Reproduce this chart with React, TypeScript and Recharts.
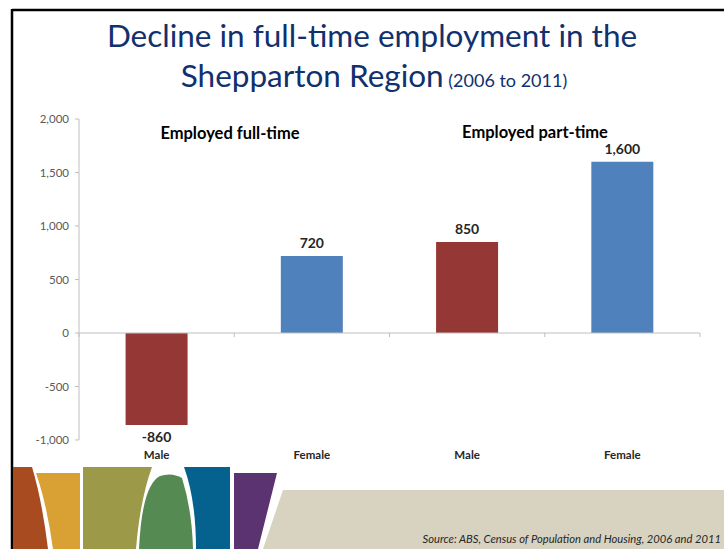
import React from 'react';
import { BarChart, Bar, XAxis, YAxis, ReferenceLine, LabelList, Cell } from 'recharts';

const groups = ['Employed full-time', 'Employed part-time'];
const categories = ['Male', 'Female', 'Male', 'Female'];
const values = [-860, 720, 850, 1600];
const barColors = ['#953735', '#4F81BD', '#953735', '#4F81BD'];
const yTicks = [-1000, -500, 0, 500, 1000, 1500, 2000];
const titleLine1 = 'Decline in full-time employment in the';
const titleLine2 = 'Shepparton Region';
const titleYears = '(2006 to 2011)';
const sourceText = 'Source: ABS, Census of Population and Housing, 2006 and 2011';

const data = categories.map((c, i) => ({ key: String(i), label: c, value: values[i] }));

const FONT = 'Lato, "Open Sans", sans-serif';
const fmt = (v: number) => v.toLocaleString('en-US');

const ZeroAxis = (props: any) => {
  const { x1, x2, y1 } = props;
  const n = categories.length;
  const ticks = [];
  for (let i = 0; i <= n; i++) {
    const x = x1 + (i * (x2 - x1)) / n;
    ticks.push(<line key={i} x1={x} x2={x} y1={y1} y2={y1 + 4} stroke="#BFBFBF" strokeWidth={1} />);
  }
  return (
    <g>
      <line x1={x1} x2={x2} y1={y1} y2={y1} stroke="#BFBFBF" strokeWidth={1} />
      {ticks}
    </g>
  );
};

const ValueLabel = (props: any) => {
  const { x, y, width, height, value } = props;
  const top = Math.min(y, y + height);
  const bottom = Math.max(y, y + height);
  const cx = x + width / 2;
  const ty = value >= 0 ? top - 8 : bottom + 17;
  return (
    <text x={cx} y={ty} textAnchor="middle" fontFamily={FONT} fontWeight={700} fontSize={14} fill="#262626">
      {fmt(value)}
    </text>
  );
};

const CatTick = (props: any) => {
  const { x, y, payload } = props;
  const label = categories[Number(payload.value)];
  return (
    <text x={x} y={y} dy={19} textAnchor="middle" fontFamily={FONT} fontWeight={700} fontSize={11.5} fill="#262626">
      {label}
    </text>
  );
};

export default function App() {
  return (
    <div style={{ position: 'absolute', left: 0, top: 0, width: 724, height: 549, overflow: 'hidden', background: '#fff' }}>
      <svg width={724} height={549} style={{ position: 'absolute', left: 0, top: 0 }}>
        {/* slide border */}
        <line x1={12} x2={724} y1={10} y2={10} stroke="#000" strokeWidth={2.5} />
        <line x1={12} x2={12} y1={9} y2={549} stroke="#000" strokeWidth={2.5} />
        {/* decoration */}
        <path d="M13,467 L32,467 Q42,500 48,549 L13,549 Z" fill="#A84B20" />
        <path d="M36,473 L80,473 L80,549 L53,549 Q47,505 36,473 Z" fill="#D9A034" />
        <path d="M83,467 L152,467 Q140,500 136,549 L83,549 Z" fill="#9C9A48" />
        <path d="M139,549 Q142,485 160,476 Q172,472 182,478 Q192,510 193,549 Z" fill="#558A52" />
        <path d="M184,467 L230,467 L230,549 L196,549 Q196,500 184,467 Z" fill="#05628F" />
        <path d="M234,473 L277,473 L258,549 L234,549 Z" fill="#5C3371" />
        <path d="M283,490 L724,490 L724,549 L263,549 Z" fill="#D8D3C1" />
        {/* title */}
        <text x={372} y={47} textAnchor="middle" fontFamily={FONT} fontSize={31.5} fill="#10306E">
          {titleLine1}
        </text>
        <text x={374} y={87} textAnchor="middle" fontFamily={FONT} fontSize={31.5} fill="#10306E">
          {titleLine2}
          <tspan fontSize={18}> {titleYears}</tspan>
        </text>
        {/* group headings */}
        <text x={230} y={139} textAnchor="middle" fontFamily={FONT} fontWeight={700} fontSize={16.5} fill="#000">
          {groups[0]}
        </text>
        <text x={535} y={138} textAnchor="middle" fontFamily={FONT} fontWeight={700} fontSize={16.5} fill="#000">
          {groups[1]}
        </text>
        {/* source */}
        <text x={721} y={543} textAnchor="end" fontFamily={FONT} fontStyle="italic" fontSize={11.2} fill="#262626">
          {sourceText}
        </text>
      </svg>
      <div style={{ position: 'absolute', left: 0, top: 0 }}>
        <BarChart
          width={724}
          height={549}
          data={data}
          margin={{ top: 119, right: 24, bottom: 79, left: 0 }}
          barCategoryGap="30%"
        >
          <YAxis
            type="number"
            domain={[-1000, 2000]}
            ticks={yTicks}
            width={79}
            tickFormatter={fmt}
            axisLine={{ stroke: '#BFBFBF' }}
            tickLine={{ stroke: '#BFBFBF' }}
            tickSize={4}
            tickMargin={6}
            tick={{ fontFamily: FONT, fontSize: 11.5, fill: '#595959' }}
            interval={0}
          />
          <XAxis
            dataKey="key"
            height={30}
            axisLine={false}
            tickLine={false}
            tickSize={0}
            tickMargin={0}
            interval={0}
            tick={<CatTick />}
          />
          <ReferenceLine y={0} shape={<ZeroAxis />} ifOverflow="visible" />
          <Bar dataKey="value" isAnimationActive={false}>
            {data.map((d, i) => (
              <Cell key={d.key} fill={barColors[i]} />
            ))}
            <LabelList dataKey="value" content={<ValueLabel />} />
          </Bar>
        </BarChart>
      </div>
    </div>
  );
}
